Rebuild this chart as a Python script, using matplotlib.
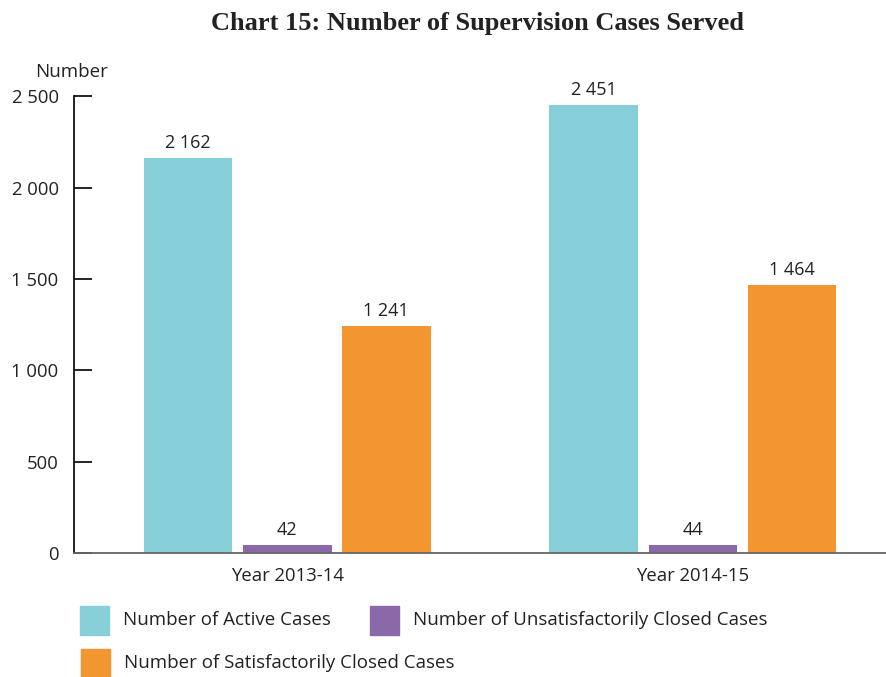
import matplotlib.pyplot as plt
from matplotlib.patches import Rectangle
import numpy as np

plt.rcParams['font.family'] = ['Open Sans', 'DejaVu Sans']

years = ['Year 2013-14', 'Year 2014-15']
series_names = ['Number of Active Cases',
                'Number of Unsatisfactorily Closed Cases',
                'Number of Satisfactorily Closed Cases']
active = [2162, 2451]
unsatisfactory = [42, 44]
satisfactory = [1241, 1464]
colors = ['#86CFD9', '#8A68AA', '#F39530']
y_ticks = [0, 500, 1000, 1500, 2000, 2500]


def fmt(v):
    return '{:,}'.format(v).replace(',', ' ')


fig = plt.figure(figsize=(8.87, 6.77), dpi=100)
ax = fig.add_axes([0.0834, 0.1832, 0.9166, 0.6748])

x = np.arange(len(years))
width = 0.219
step = 0.244
for i, (vals, col) in enumerate(zip([active, unsatisfactory, satisfactory], colors)):
    bars = ax.bar(x + (i - 1) * step, vals, width, color=col, zorder=2)
    for b, v in zip(bars, vals):
        ax.text(b.get_x() + b.get_width() / 2, v + 35, fmt(v),
                ha='center', va='bottom', fontsize=13, color='#222222')

ax.set_xlim(-0.525, 1.478)
ax.set_ylim(0, 2500)
ax.set_yticks(y_ticks)
ax.set_yticklabels([fmt(t) for t in y_ticks], fontsize=13.3, color='#222222')
ax.set_xticks(x)
ax.set_xticklabels(years, fontsize=13.3, color='#222222')
ax.tick_params(axis='y', direction='in', length=13, width=1.2, pad=11)
ax.tick_params(axis='x', length=0, pad=10)

ax.spines['top'].set_visible(False)
ax.spines['right'].set_visible(False)
ax.spines['left'].set_color('#111111')
ax.spines['left'].set_linewidth(1.3)
ax.spines['bottom'].set_color('#666666')
ax.spines['bottom'].set_linewidth(1.3)

fig.text(0.04, 0.893, 'Number', fontsize=13.5, color='#222222', va='center')
fig.text(0.538, 0.966, 'Chart 15: Number of Supervision Cases Served',
         fontsize=19, fontweight='bold', family='Liberation Serif',
         ha='center', va='center', color='#222222')

# legend drawn by hand
legend_pos = [(80, 606), (370, 606), (81, 649)]
W, H = fig.get_size_inches() * fig.dpi
for (px, py), name, col in zip(legend_pos, series_names, colors):
    fig.patches.append(Rectangle((px / W, 1 - (py + 29) / H), 29 / W, 29 / H,
                                 color=col, transform=fig.transFigure, figure=fig))
    fig.text((px + 43) / W, 1 - (py + 14) / H, name, fontsize=13.5,
             color='#222222', va='center')

fig.savefig('out.png', dpi=100)
